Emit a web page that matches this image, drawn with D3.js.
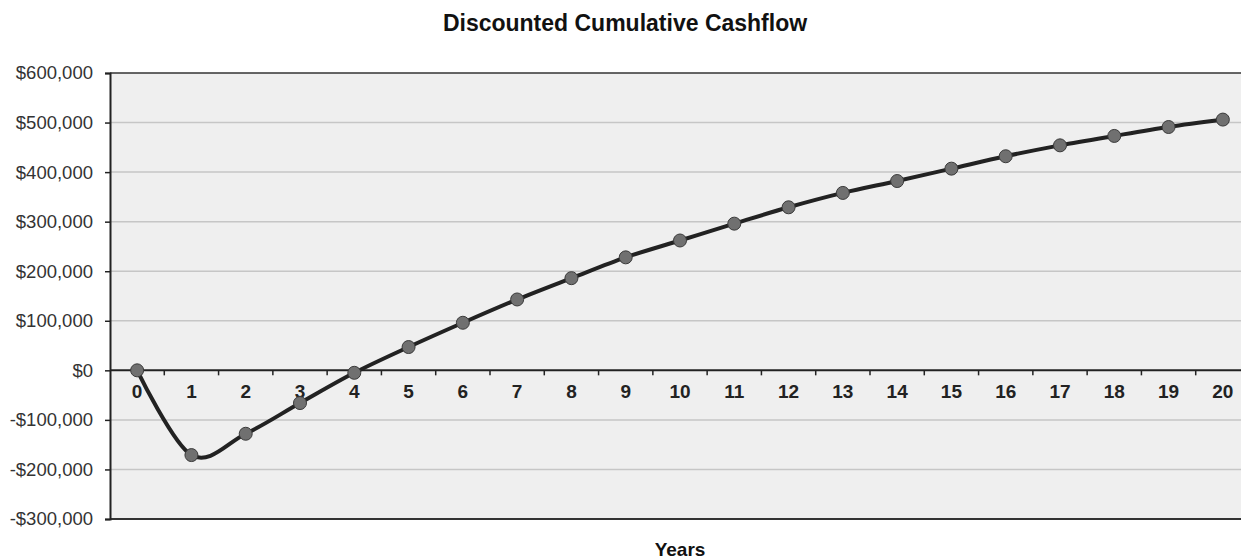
<!DOCTYPE html>
<html>
<head>
<meta charset="utf-8">
<script src="https://cdn.jsdelivr.net/npm/d3@7"></script>
<style>
  html, body { margin: 0; padding: 0; background: #ffffff; }
  svg { display: block; }
</style>
</head>
<body>
<svg id="chart" width="1241" height="560"></svg>
<script>
const years = ["0","1","2","3","4","5","6","7","8","9","10","11","12","13","14","15","16","17","18","19","20"];
const cashflow = [0, -171000, -128000, -66000, -5000, 47000, 96000, 143000, 186000, 228000, 262000, 296000, 329000, 358000, 382000, 407000, 432000, 454000, 473000, 491000, 506000];
const yTicks = [-300000, -200000, -100000, 0, 100000, 200000, 300000, 400000, 500000, 600000];
const chartTitle = "Discounted Cumulative Cashflow";
const xTitle = "Years";

(function () {
const svg = d3.select("#chart");
const pLeft = 110, pRight = 1250, pTop = 73, pBottom = 519;

const x = d3.scaleBand().domain(years).range([pLeft, pRight]).paddingInner(0).paddingOuter(0);
const y = d3.scaleLinear().domain([-300000, 600000]).range([pBottom, pTop]);

// plot background
svg.append("rect").attr("x", pLeft).attr("y", pTop).attr("width", pRight - pLeft).attr("height", pBottom - pTop)
  .attr("fill", "#efefef");

// gridlines
svg.append("g").selectAll("line").data(yTicks.filter(d => d !== 0 && d !== 600000 && d !== -300000)).join("line")
  .attr("x1", pLeft).attr("x2", pRight).attr("y1", d => y(d)).attr("y2", d => y(d))
  .attr("stroke", "#c6c6c6").attr("stroke-width", 1.5);

// top border
svg.append("line").attr("x1", pLeft).attr("x2", pRight).attr("y1", pTop).attr("y2", pTop)
  .attr("stroke", "#333").attr("stroke-width", 1.5);
// bottom border
svg.append("line").attr("x1", pLeft).attr("x2", pRight).attr("y1", pBottom).attr("y2", pBottom)
  .attr("stroke", "#333").attr("stroke-width", 2);

// y axis
const yAxis = d3.axisLeft(y).tickValues(yTicks).tickSize(5).tickPadding(12)
  .tickFormat(d => (d < 0 ? "-$" : "$") + d3.format(",")(Math.abs(d)));
const yg = svg.append("g").attr("transform", `translate(${pLeft},0)`).call(yAxis);
yg.select(".domain").attr("stroke", "#222").attr("stroke-width", 2);
yg.selectAll(".tick line").attr("stroke", "#222").attr("stroke-width", 1.5);
yg.selectAll(".tick text").attr("font-family", "Liberation Sans, Arial, sans-serif")
  .attr("font-size", 18.5).attr("fill", "#333");

// x axis at zero
const xTickPos = d3.range(1, years.length).map(i => pLeft + i * x.bandwidth());
const xg = svg.append("g");
xg.append("line").attr("x1", pLeft).attr("x2", pRight).attr("y1", y(0)).attr("y2", y(0))
  .attr("stroke", "#222").attr("stroke-width", 2);
xg.selectAll("line.tk").data(xTickPos).join("line").attr("class", "tk")
  .attr("x1", d => d).attr("x2", d => d).attr("y1", y(0)).attr("y2", y(0) + 5)
  .attr("stroke", "#222").attr("stroke-width", 1.5);
xg.selectAll("text").data(years).join("text")
  .attr("x", d => x(d) + x.bandwidth() / 2).attr("y", y(0) + 28)
  .attr("text-anchor", "middle")
  .attr("font-family", "Liberation Sans, Arial, sans-serif").attr("font-weight", "bold")
  .attr("font-size", 19).attr("fill", "#222").text(d => d);

// line
const line = d3.line().x((d, i) => x(years[i]) + x.bandwidth() / 2).y(d => y(d))
  .curve(d3.curveCardinal.tension(0));
svg.append("path").datum(cashflow).attr("d", line).attr("fill", "none")
  .attr("stroke", "#222").attr("stroke-width", 4);

// markers
svg.append("g").selectAll("circle").data(cashflow).join("circle")
  .attr("cx", (d, i) => x(years[i]) + x.bandwidth() / 2).attr("cy", d => y(d)).attr("r", 6.5)
  .attr("fill", "#707070").attr("stroke", "#3a3a3a").attr("stroke-width", 1);

// titles
svg.append("text").attr("x", 625).attr("y", 31).attr("text-anchor", "middle")
  .attr("font-family", "Liberation Sans, Arial, sans-serif").attr("font-weight", "bold")
  .attr("font-size", 23).attr("fill", "#111").text(chartTitle);
svg.append("text").attr("x", (pLeft + pRight) / 2).attr("y", 556).attr("text-anchor", "middle")
  .attr("font-family", "Liberation Sans, Arial, sans-serif").attr("font-weight", "bold")
  .attr("font-size", 19).attr("fill", "#111").text(xTitle);
})();
</script>
</body>
</html>
